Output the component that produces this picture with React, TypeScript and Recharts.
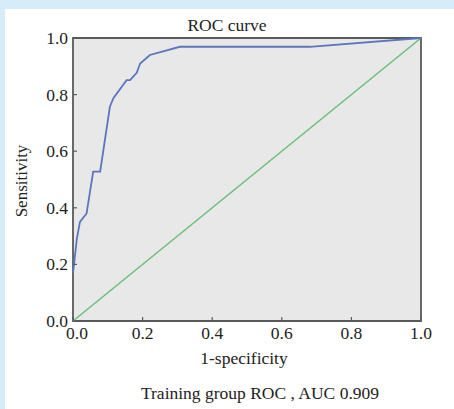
import { LineChart, Line, XAxis, YAxis, ReferenceArea } from "recharts";

const fpr = [0, 0.003, 0.011, 0.02, 0.039, 0.058, 0.078, 0.106, 0.116, 0.154, 0.164, 0.183, 0.193, 0.221, 0.307, 0.68, 1];
const tpr = [0.17, 0.2, 0.29, 0.35, 0.38, 0.528, 0.528, 0.757, 0.787, 0.851, 0.851, 0.877, 0.91, 0.94, 0.969, 0.969, 1];
const refX = [0, 1];
const refY = [0, 1];
const ticks = [0, 0.2, 0.4, 0.6, 0.8, 1];

const rocData = fpr.map((x, i) => ({ x, y: tpr[i] }));
const diagData = refX.map((x, i) => ({ x, y: refY[i] }));

const FONT = "'Liberation Serif', 'Times New Roman', serif";
const TEXT = "#222222";
const AXIS = "#5a5a5a";

const XTick = (props: any) => {
  const { x, y, payload } = props;
  // the 0.0 label sits a little right of its tick in the original
  const dx = payload.value === 0 ? 4 : 0;
  return (
    <g>
      <line x1={x} x2={x} y1={y} y2={y - 4} stroke={AXIS} strokeWidth={1.2} />
      <text x={x + dx} y={y + 18} textAnchor="middle" fontFamily={FONT} fontSize={17.5} fill={TEXT}>
        {payload.value.toFixed(1)}
      </text>
    </g>
  );
};

const YTick = (props: any) => {
  const { x, y, payload } = props;
  return (
    <g>
      <line x1={x} x2={x + 4} y1={y} y2={y} stroke={AXIS} strokeWidth={1.2} />
      <text x={x - 5} y={y + 6} textAnchor="end" fontFamily={FONT} fontSize={17.5} fill={TEXT}>
        {payload.value.toFixed(1)}
      </text>
    </g>
  );
};

const label = (extra: React.CSSProperties): React.CSSProperties => ({
  position: "absolute",
  fontFamily: FONT,
  color: TEXT,
  whiteSpace: "nowrap",
  lineHeight: 1,
  ...extra,
});

export default function App() {
  return (
    <div style={{ position: "absolute", left: 0, top: 0, width: 454, height: 409, background: "#d6ecf9", overflow: "hidden" }}>
      <div style={{ position: "absolute", left: 5, top: 9, right: 0, bottom: 0, background: "#ffffff" }} />
      <div style={{ position: "absolute", left: 0, top: 0 }}>
        <LineChart width={454} height={409} data={rocData} margin={{ top: 38, right: 33, bottom: 58, left: 13 }}>
          <ReferenceArea x1={0} x2={1} y1={0} y2={1} fill="#e8e8e8" fillOpacity={1} stroke={AXIS} strokeWidth={1.8} />
          <XAxis
            type="number"
            dataKey="x"
            domain={[0, 1]}
            ticks={ticks}
            axisLine={false}
            tickLine={false}
            tickSize={0}
            tickMargin={0}
            height={30}
            tick={<XTick />}
            interval={0}
          />
          <YAxis
            type="number"
            dataKey="y"
            domain={[0, 1]}
            ticks={ticks}
            axisLine={false}
            tickLine={false}
            tickSize={0}
            tickMargin={0}
            width={60}
            tick={<YTick />}
            interval={0}
          />
          <Line data={diagData} dataKey="y" type="linear" stroke="#6cc07a" strokeWidth={1.6} dot={false} isAnimationActive={false} />
          <Line data={rocData} dataKey="y" type="linear" stroke="#5b76bf" strokeWidth={1.8} dot={false} isAnimationActive={false} />
        </LineChart>
      </div>
      <div style={label({ left: 227, top: 17, fontSize: 17.5, transform: "translateX(-50%)" })}>ROC curve</div>
      <div style={label({ left: 244, top: 350, fontSize: 17.5, transform: "translateX(-50%)" })}>1-specificity</div>
      <div style={label({ left: 260, top: 385, fontSize: 17.5, transform: "translateX(-50%)" })}>Training group ROC , AUC 0.909</div>
      <div style={label({ left: 21, top: 181, fontSize: 17, transform: "translate(-50%, -50%) rotate(-90deg)" })}>Sensitivity</div>
    </div>
  );
}
